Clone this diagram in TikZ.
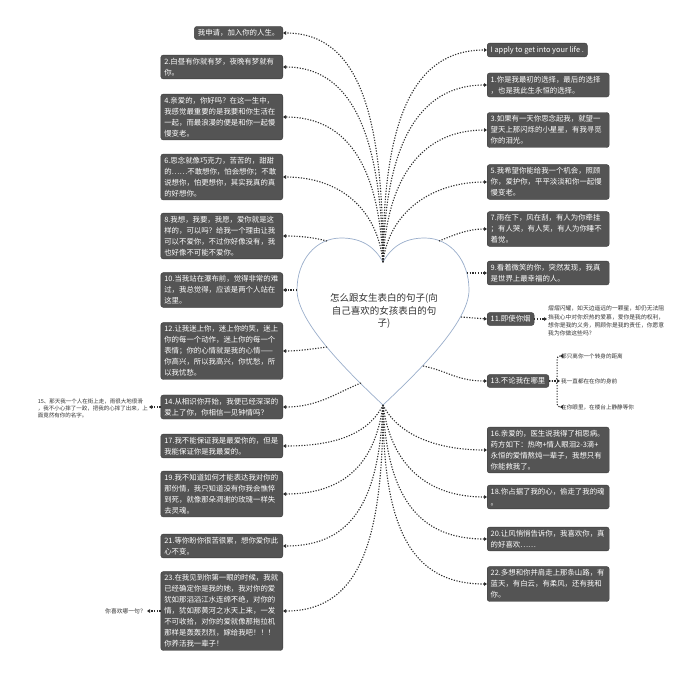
\documentclass[tikz,border=0pt]{standalone}
\usepackage{fontspec}
\setmainfont{Noto Sans CJK SC}
\usepackage{xcolor}
\usepackage{tikz}
\usetikzlibrary{arrows.meta,positioning,calc}

\definecolor{boxfill}{HTML}{545454}
\definecolor{boxline}{HTML}{3C3C3C}
\definecolor{heartline}{HTML}{9AAECB}
\definecolor{linkcol}{HTML}{2E2E2E}
\definecolor{notecol}{HTML}{333333}

\begin{document}
\begin{tikzpicture}[x=1pt, y=-1pt,
  qbox/.style={draw=boxline, fill=boxfill, rounded corners=2.5pt, text=white,
    font=\fontsize{7.4}{11}\selectfont, align=left, inner xsep=3.5pt, inner ysep=3pt},
  lbox/.style={qbox, text width=115pt, anchor=east},
  rbox/.style={qbox, text width=115pt, anchor=west},
  note/.style={text=notecol, align=left, inner sep=1pt},
  link/.style={draw=linkcol, line width=1.1pt, dash pattern=on 1.2pt off 1.5pt,
    -{Triangle[length=3pt,width=3.6pt]}},
  heart/.style={draw=heartline, line width=0.7pt, fill=white}
]
\useasboundingbox (0,0) rectangle (692,675);

% heart in the middle
\draw[heart] (383,262) .. controls (392,246) and (405,238) .. (425,238)
  .. controls (450,238) and (469,260) .. (469,290)
  .. controls (469,322) and (418,372) .. (383,405)
  .. controls (348,372) and (297,322) .. (297,290)
  .. controls (297,260) and (316,238) .. (341,238)
  .. controls (361,238) and (374,246) .. (383,262) -- cycle;
\node[text=notecol, font=\fontsize{9.5}{12.7}\selectfont, align=center] (title) at (384,311)
  {怎么跟女生表白的句子(向\\自己喜欢的女孩表白的句\\子)};

\coordinate (hdip) at (383,262);
\coordinate (htip) at (383,405);
\coordinate (hl5) at (327,241);
\coordinate (hl6) at (297,290);
\coordinate (hl7) at (327,347);
\coordinate (hl8) at (361,383);
\coordinate (hr5) at (439,241);
\coordinate (hr6) at (467,273);
\coordinate (hr7) at (461,317);
\coordinate (hr8) at (423,366);

% left column
\node[qbox, anchor=east] (l1) at (283,33) {我申请，加入你的人生。};
\node[lbox] (l2) at (283,67) {2.白昼有你就有梦，夜晚有梦就有\\你。};
\node[lbox] (l3) at (283,117) {4.亲爱的，你好吗？在这一生中，\\我感觉最重要的是我要和你生活在\\一起，而最浪漫的便是和你一起慢\\慢变老。};
\node[lbox] (l4) at (283,177) {6.思念就像巧克力，苦苦的，甜甜\\的……不敢想你，怕会想你；不敢\\说想你，怕更想你，其实我真的真\\的好想你。};
\node[lbox] (l5) at (283,236) {8.我想，我要，我愿，爱你就是这\\样的，可以吗？给我一个理由让我\\可以不爱你，不过你好像没有，我\\也好像不可能不爱你。};
\node[lbox] (l6) at (283,290) {10.当我站在瀑布前，觉得非常的难\\过，我总觉得，应该是两个人站在\\这里。};
\node[lbox] (l7) at (283,351) {12.让我迷上你，迷上你的笑，迷上\\你的每一个动作，迷上你的每一个\\表情；你的心情就是我的心情——\\你高兴，所以我高兴，你忧愁，所\\以我忧愁。};
\node[lbox] (l8) at (283,407) {14.从相识你开始，我便已经深深的\\爱上了你，你相信一见钟情吗？};
\node[lbox] (l9) at (283,446) {17.我不能保证我是最爱你的，但是\\我能保证你是我最爱的。};
\node[lbox] (l10) at (283,494) {19.我不知道如何才能表达我对你的\\那份情，我只知道没有你我会憔悴\\到死，就像那朵凋谢的玫瑰一样失\\去灵魂。};
\node[lbox] (l11) at (283,546) {21.等你盼你很苦很累，想你爱你此\\心不变。};
\node[lbox] (l12) at (283,611) {23.在我见到你第一眼的时候，我就\\已经确定你是我的她，我对你的爱\\犹如那滔滔江水连绵不绝，对你的\\情，犹如那黄河之水天上来，一发\\不可收拾，对你的爱就像那拖拉机\\那样是轰轰烈烈，嫁给我吧！！！\\你养活我一辈子！};

% right column
\node[qbox, anchor=west] (r1) at (487,50) {I apply to get into your life .};
\node[rbox] (r2) at (487,85) {1.你是我最初的选择，最后的选择\\，也是我此生永恒的选择。};
\node[rbox] (r3) at (487,130) {3.如果有一天你思念起我，就望一\\望天上那闪烁的小星星，有我寻觅\\你的泪光。};
\node[rbox] (r4) at (487,182) {5.我希望你能给我一个机会，照顾\\你，爱护你，平平淡淡和你一起慢\\慢变老。};
\node[rbox] (r5) at (487,229) {7.雨在下，风在刮，有人为你牵挂\\；有人哭，有人笑，有人为你睡不\\着觉。};
\node[rbox] (r6) at (487,273) {9.看着微笑的你，突然发现，我真\\是世界上最幸福的人。};
\node[qbox, anchor=west] (r7) at (487,319) {11.即使你烟};
\node[qbox, anchor=west] (r8) at (487,381) {13.不论我在哪里};
\node[rbox] (r9) at (487,450) {16.亲爱的，医生说我得了相思病。\\药方如下：热吻+情人眼泪2-3滴+\\永恒的爱情熬炖一辈子，我想只有\\你能救我了。};
\node[rbox] (r10) at (487,497) {18.你占据了我的心，偷走了我的魂\\。};
\node[rbox] (r11) at (487,539) {20.让风悄悄告诉你，我喜欢你，真\\的好喜欢……};
\node[rbox] (r12) at (487,584) {22.多想和你并肩走上那条山路，有\\蓝天，有白云，有柔风，还有我和\\你。};

% notes
\node[note, anchor=west, font=\fontsize{5.8}{8.3}\selectfont] (s11) at (547,321)
  {熠熠闪耀，如天边遥远的一颗星，却仍无法阻\\挡我心中对你炽热的爱慕，爱你是我的权利，\\想你是我的义务，照顾你是我的责任，你愿意\\我为你做这些吗？};
\node[note, anchor=west, font=\fontsize{5.6}{7}\selectfont] (s13a) at (560,356) {都只离你一个转身的距离};
\node[note, anchor=west, font=\fontsize{5.6}{7}\selectfont] (s13b) at (560,381) {我一直都在在你的身前};
\node[note, anchor=west, font=\fontsize{5.6}{7}\selectfont] (s13c) at (560,407) {在你眼里，在楼台上静静等你};
\node[note, anchor=east, font=\fontsize{5.5}{7}\selectfont] (s15) at (149,408)
  {15、那天我一个人在街上走，雨很大地很滑\\，我不小心摔了一跤，把我的心摔了出来，上\\面竟然有你的名字。};
\node[note, anchor=east, font=\fontsize{5.8}{7}\selectfont] (s23) at (147,611) {你喜欢哪一句？};

% links, left
\draw[link] (hdip) .. controls +(0,-150) and +(75,0) .. (l1.east);
\draw[link] (hdip) .. controls +(-2,-125) and +(70,0) .. (l2.east);
\draw[link] (hdip) .. controls +(-4,-95) and +(65,0) .. (l3.east);
\draw[link] (hdip) .. controls +(-6,-55) and +(55,0) .. (l4.east);
\draw[link] (hl5) .. controls +(-15,-4) and +(15,0) .. (l5.east);
\draw[link] (hl6) -- (l6.east);
\draw[link] (hl7) .. controls +(-15,2) and +(15,0) .. (l7.east);
\draw[link] (hl8) .. controls +(-25,10) and +(35,0) .. (l8.east);
\draw[link] (htip) .. controls +(-15,30) and +(50,0) .. (l9.east);
\draw[link] (htip) .. controls +(-8,60) and +(60,0) .. (l10.east);
\draw[link] (htip) .. controls +(-4,95) and +(70,0) .. (l11.east);
\draw[link] (htip) .. controls +(0,140) and +(75,0) .. (l12.east);

% links, right
\draw[link] (hdip) .. controls +(0,-140) and +(-75,0) .. (r1.west);
\draw[link] (hdip) .. controls +(2,-115) and +(-70,0) .. (r2.west);
\draw[link] (hdip) .. controls +(4,-85) and +(-65,0) .. (r3.west);
\draw[link] (hdip) .. controls +(6,-50) and +(-55,0) .. (r4.west);
\draw[link] (hr5) .. controls +(15,-6) and +(-20,0) .. (r5.west);
\draw[link] (hr6) -- (r6.west);
\draw[link] (hr7) -- (r7.west);
\draw[link] (hr8) .. controls +(25,5) and +(-30,0) .. (r8.west);
\draw[link] (htip) .. controls +(15,30) and +(-50,0) .. (r9.west);
\draw[link] (htip) .. controls +(8,60) and +(-60,0) .. (r10.west);
\draw[link] (htip) .. controls +(4,90) and +(-70,0) .. (r11.west);
\draw[link] (htip) .. controls +(0,125) and +(-75,0) .. (r12.west);

% links to notes
\draw[link] (r7.east) -- (r7.east -| s11.west);
\draw[link, rounded corners=3pt] (r8.east) -- ++(8,0) |- (s13a.west);
\draw[link] (r8.east) -- (s13b.west);
\draw[link, rounded corners=3pt] (r8.east) -- ++(8,0) |- (s13c.west);
\draw[link] (l8.west) -- (l8.west -| s15.east);
\draw[link] (l12.west) -- (l12.west -| s23.east);
\end{tikzpicture}
\end{document}
